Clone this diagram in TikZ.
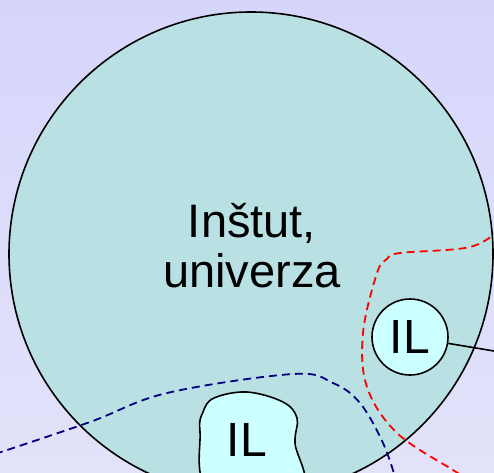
\documentclass[tikz,border=0pt]{standalone}
\usepackage{fontspec}
\newfontfamily\arialfont{Liberation Sans}
\usetikzlibrary{positioning}
\definecolor{bgtop}{RGB}{214,214,252}
\definecolor{bgbot}{RGB}{226,226,250}
\definecolor{instfill}{RGB}{185,224,226}
\definecolor{ilfill}{RGB}{204,255,255}
\definecolor{navyline}{RGB}{0,0,128}
\begin{document}
\begin{tikzpicture}[x=1pt, y=-1pt,
  bigcirc/.style={circle, draw, line width=1.6pt, fill=instfill, minimum size=484pt, inner sep=0pt},
  ilcirc/.style={circle, draw, line width=1.6pt, fill=ilfill, minimum size=76pt, inner sep=0pt, font=\arialfont\fontsize{48}{50}\selectfont},
  ilblob/.style={draw, line width=1.6pt, fill=ilfill},
  bigtext/.style={align=center, font=\arialfont\fontsize{47}{50}\selectfont},
  redpath/.style={draw=red, line width=1.8pt, dash pattern=on 8pt off 5pt},
  bluepath/.style={draw=navyline, line width=1.8pt, dash pattern=on 8pt off 5pt}]
  \useasboundingbox (0,0) rectangle (494,472);
  \clip (0,0) rectangle (494,472);
  \fill[top color=bgtop, middle color=white, bottom color=bgbot] (0,0) rectangle (494,472);
  \node [bigcirc] (inst) at (251,254) {};
  \node [bigtext] (insttext) at (252,246) {Inštut,\\univerza};
  % lower IL
  \path [ilblob] plot [smooth cycle, tension=0.6] coordinates {(210,490) (200,432) (203,412) (214,398) (247,392) (283,402) (297,418) (295,443) (300,490)};
  \node [font=\arialfont\fontsize{48}{50}\selectfont] (ilb) at (247,440) {IL};
  % dashed borders
  \path [bluepath] plot [smooth, tension=0.6] coordinates {(-5,454) (90,422) (167,393) (293,374) (333,383) (360,403) (383,443) (396,480)};
  \path [redpath] plot [smooth, tension=0.6] coordinates {(500,229) (470,247) (400,253) (387,259) (377,273) (363,333) (367,387) (397,433) (453,470) (470,480)};
  % right IL
  \node [ilcirc] (ilr) at (410,337) {IL};
  \coordinate (ilout) at (500,352);
  \draw [line width=1.6pt] (ilr) -- (ilout);
\end{tikzpicture}
\end{document}
